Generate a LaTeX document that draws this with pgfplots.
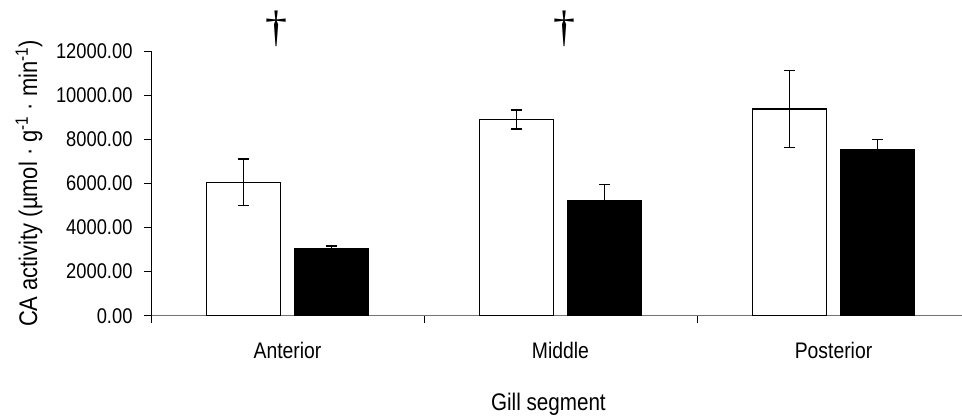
\documentclass[border=0pt]{standalone}
\usepackage{fontspec}
\setmainfont[FakeStretch=0.86]{Liberation Sans}
\newfontfamily\dagfont{Liberation Serif}
\usepackage{pgfplots}
\pgfplotsset{compat=1.18}
\begin{document}
\begin{tikzpicture}
\begin{axis}[
  name=ax,
  scale only axis, width=811pt, height=264.7pt,
  xmin=-0.5, xmax=2.4707, ymin=0, ymax=12000,
  clip=false,
  axis x line=bottom, axis y line=left,
  axis line style={-},
  x axis line style={black!55, line width=1pt},
  y axis line style={black, line width=0.9pt},
  tick align=outside, major tick length=7pt,
  every tick/.style={black, line width=0.8pt},
  scaled y ticks=false,
  ytick={0,2000,...,12000},
  yticklabel style={font=\fontsize{21.3}{24}\selectfont, xshift=-8pt,
    /pgf/number format/fixed, /pgf/number format/fixed zerofill,
    /pgf/number format/precision=2, /pgf/number format/1000 sep={},
    /pgf/number format/assume math mode=true},
  xtick={-0.5,0.5,1.5}, xticklabels={,,},
  extra x ticks={0,1,2},
  extra x tick labels={Anterior,Middle,Posterior},
  extra x tick style={major tick length=0pt},
  xticklabel style={font=\fontsize{22.5}{26}\selectfont, yshift=-23pt},
  xlabel={Gill segment},
  ylabel={CA activity (µmol · g\textsuperscript{-1} · min\textsuperscript{-1})},
  every axis x label/.style={at={(axis description cs:0.49,0)}, yshift=-89pt, anchor=center, font=\fontsize{24}{28}\selectfont},
  every axis y label/.style={at={(axis description cs:0,0.5)}, xshift=-122pt, rotate=90, anchor=center, font=\fontsize{25.5}{30}\selectfont},
  ybar=14pt, bar width=74pt,
  error bars/error bar style={line width=1.3pt, black},
  error bars/error mark options={rotate=90, mark size=5.5pt, line width=1.3pt, black},
]
\addplot[draw=black, fill=white, line width=1.2pt,
  error bars/.cd, y dir=both, y explicit]
  coordinates {(0,6050) +- (0,1050) (1,8900) +- (0,430) (2,9370) +- (0,1750)};
\addplot[draw=black, fill=black, line width=1.2pt,
  error bars/.cd, y dir=both, y explicit]
  coordinates {(0,3040) +- (0,120) (1,5210) +- (0,740) (2,7520) +- (0,460)};
\node[font=\dagfont\fontsize{44}{48}\selectfont] at (axis cs:-0.04,13000) {†};
\node[font=\dagfont\fontsize{44}{48}\selectfont] at (axis cs:1.014,13000) {†};
\end{axis}
\pgfresetboundingbox
\path ([shift={(-151pt,-103.3pt)}]ax.south west) rectangle ++(962pt,419pt);
\end{tikzpicture}
\end{document}
